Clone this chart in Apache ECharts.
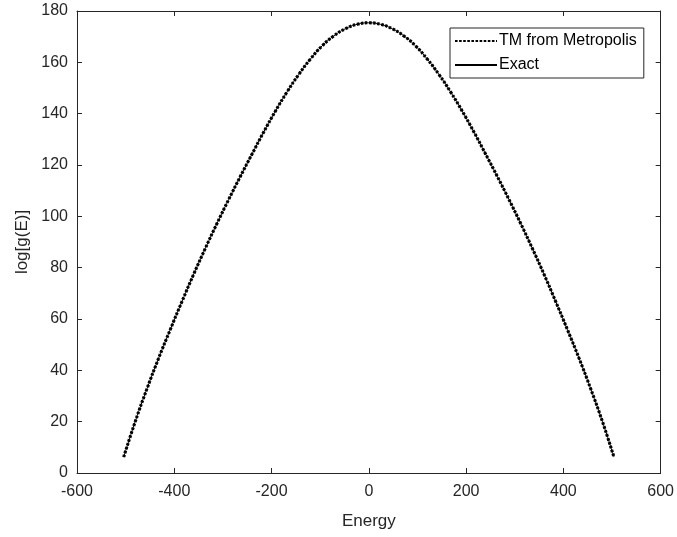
<!DOCTYPE html>
<html>
<head>
<meta charset="utf-8">
<script src="https://cdn.jsdelivr.net/npm/echarts@6/dist/echarts.min.js"></script>
<style>
html,body{margin:0;padding:0;background:#fff;}
#chart{width:677px;height:537px;}
</style>
</head>
<body>
<div id="chart"></div>
<script>
// Energy values (x)
const energies = [-504,-480,-456,-432,-408,-384,-360,-336,-312,-288,-264,-240,-216,-192,-168,-144,-120,-96,-72,-48,-24,0,
  24,48,72,96,120,144,168,192,216,240,264,288,312,336,360,384,408,432,456,480,504];
// log[g(E)] from transition-matrix Metropolis estimate
const tmMetropolis = [6.2,20.2,32.9,44.8,56.0,66.9,77.5,87.6,97.3,106.6,115.6,124.3,132.9,141.0,148.5,155.3,161.3,166.4,170.3,173.1,174.8,175.4,
  174.8,173.1,170.3,166.4,161.3,155.3,148.5,141.0,132.9,124.3,115.6,106.6,97.3,87.6,77.5,66.9,56.0,44.8,32.9,20.2,6.2];
// exact log[g(E)]
const exact = [6.2,20.2,32.9,44.8,56.0,66.9,77.5,87.6,97.3,106.6,115.6,124.3,132.9,141.0,148.5,155.3,161.3,166.4,170.3,173.1,174.8,175.4,
  174.8,173.1,170.3,166.4,161.3,155.3,148.5,141.0,132.9,124.3,115.6,106.6,97.3,87.6,77.5,66.9,56.0,44.8,32.9,20.2,6.2];
const xTicks = {min:-600, max:600, interval:200};
const yTicks = {min:0, max:180, interval:20};

const axisColor = '#262626';
const font = 'Liberation Sans, Arial, Helvetica, sans-serif';
function pairs(xs, ys){ return xs.map((x,i)=>[x, ys[i]]); }

const chart = echarts.init(document.getElementById('chart'), null, {renderer:'canvas'});
const baseAxis = {
  axisLine:{show:true, onZero:false, lineStyle:{color:axisColor, width:1}},
  axisTick:{show:true, inside:true, length:5, lineStyle:{color:axisColor}},
  splitLine:{show:false},
};
chart.setOption({
  animation:false,
  backgroundColor:'#fff',
  grid:{left:77, right:15, top:11, bottom:64, containLabel:false},
  legend:{
    orient:'vertical', left:450, top:28,
    backgroundColor:'#fff',
    borderColor:axisColor, borderWidth:1,
    padding:[5,7,5,4],
    itemWidth:42, itemHeight:14, itemGap:8,
    itemStyle:{opacity:0},
    textStyle:{fontFamily:font, fontSize:16, color:'#000', padding:[0,0,0,-3]},
    data:['TM from Metropolis','Exact']
  },
  xAxis:[
    Object.assign({}, baseAxis, {
      type:'value', position:'bottom', min:xTicks.min, max:xTicks.max, interval:xTicks.interval,
      name:'Energy', nameLocation:'middle', nameGap:40,
      nameTextStyle:{fontFamily:font, fontSize:17, color:axisColor},
      axisLabel:{fontFamily:font, fontSize:16, color:axisColor, margin:11}
    }),
    Object.assign({}, baseAxis, {
      type:'value', position:'top', min:xTicks.min, max:xTicks.max, interval:xTicks.interval,
      axisLabel:{show:false}
    })
  ],
  yAxis:[
    Object.assign({}, baseAxis, {
      type:'value', position:'left', min:yTicks.min, max:yTicks.max, interval:yTicks.interval,
      name:'log[g(E)]', nameLocation:'middle', nameGap:37,
      nameTextStyle:{fontFamily:font, fontSize:17, color:axisColor},
      axisLabel:{fontFamily:font, fontSize:16, color:axisColor, margin:9}
    }),
    Object.assign({}, baseAxis, {
      type:'value', position:'right', min:yTicks.min, max:yTicks.max, interval:yTicks.interval,
      axisLabel:{show:false}
    })
  ],
  series:[
    {
      name:'Exact', type:'line', xAxisIndex:0, yAxisIndex:0,
      data:pairs(energies, exact), symbol:'none', smooth:true, z:2,
      lineStyle:{color:'#000', width:1, type:'solid'},
      itemStyle:{color:'#000'}
    },
    {
      name:'TM from Metropolis', type:'line', xAxisIndex:0, yAxisIndex:0,
      data:pairs(energies, tmMetropolis), symbol:'none', smooth:true, z:3,
      lineStyle:{color:'#000', width:3.1, type:[2.6,1.5]},
      itemStyle:{color:'#000'}
    }
  ]
});
</script>
</body>
</html>
